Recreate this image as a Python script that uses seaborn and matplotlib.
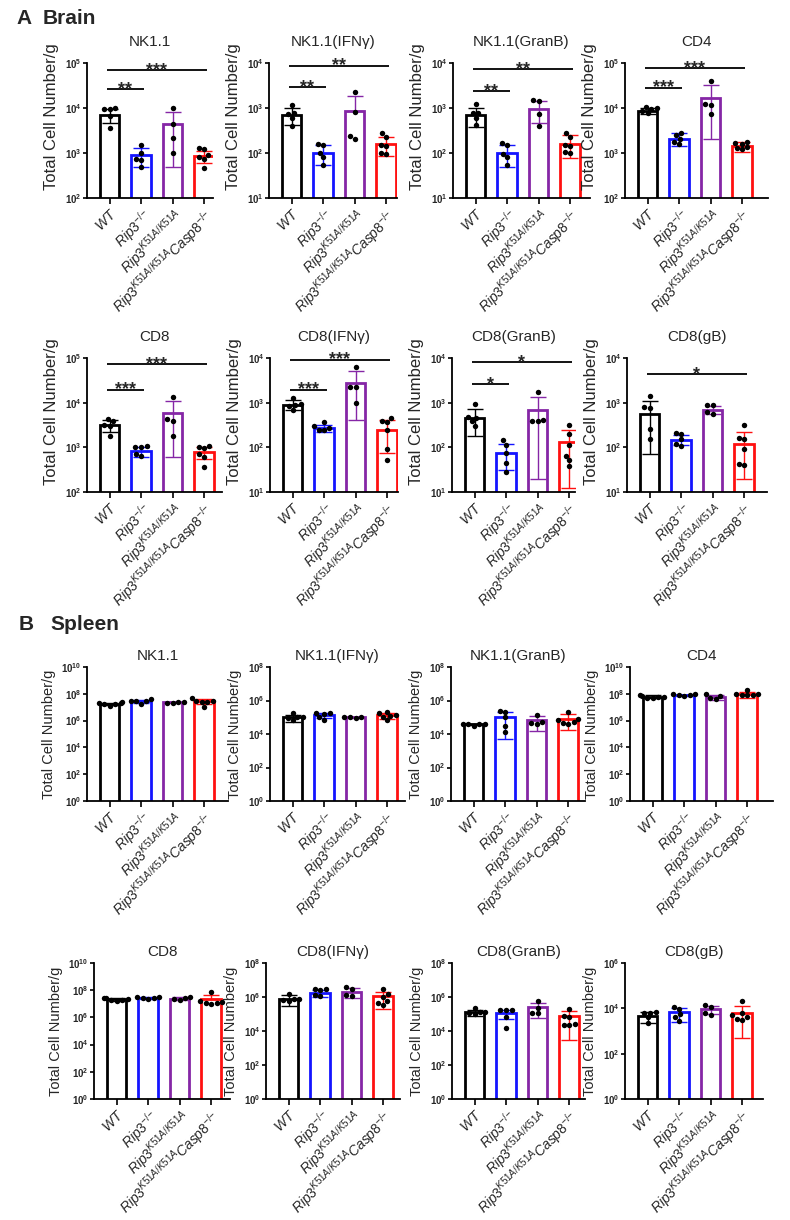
import warnings
warnings.filterwarnings('ignore')
import numpy as np
import pandas as pd
import matplotlib
matplotlib.use('Agg')
import matplotlib.pyplot as plt
import seaborn as sns
from matplotlib.ticker import FixedLocator, FuncFormatter, NullLocator

sns.set_style('ticks')
plt.rcParams['font.family'] = ['Liberation Sans', 'DejaVu Sans']
plt.rcParams['mathtext.fontset'] = 'custom'
plt.rcParams['mathtext.rm'] = 'Liberation Sans'
plt.rcParams['mathtext.it'] = 'Liberation Sans:italic'
plt.rcParams['mathtext.bf'] = 'Liberation Sans:bold'

# ---------------- categories ----------------
groups = ['WT', 'Rip3-/-', 'Rip3K51A/K51A', 'Rip3K51A/K51A Casp8-/-']
group_labels = [r'$\mathit{WT}$',
                r'$\mathit{Rip3}^{\mathit{-/{-}}}$',
                r'$\mathit{Rip3}^{\mathit{K51A/K51A}}$',
                r'$\mathit{Rip3}^{\mathit{K51A/K51A}}\mathit{Casp8}^{\mathit{-/{-}}}$']
group_colors = ['#000000', '#1414ff', '#8526a6', '#ff1010']

titles = ['NK1.1', 'NK1.1(IFNγ)', 'NK1.1(GranB)', 'CD4',
          'CD8', 'CD8(IFNγ)', 'CD8(GranB)', 'CD8(gB)']

# ---------------- Brain data ----------------
brain_nk11_mean = [7.1e3, 890, 4.3e3, 850]
brain_nk11_sd = [2.4e3, 400, 3.8e3, 250]
brain_nk11_pts = [[9.6e3, 9.6e3, 9.8e3, 6.5e3, 3.6e3], [1.5e3, 1.0e3, 720, 700, 500],
                  [9.8e3, 4.5e3, 2.2e3, 1.0e3], [1.3e3, 1.2e3, 900, 800, 750, 470]]
brain_nk11_sig = [(0, 1, 2.6e4, '**'), (0, 3, 6.9e4, '***')]

brain_nk11ifng_mean = [705, 102, 840, 157]
brain_nk11ifng_sd = [290, 48, 1050, 70]
brain_nk11ifng_pts = [[1150, 780, 740, 600, 400], [155, 150, 100, 80, 53],
                      [2300, 800, 210, 240], [275, 230, 150, 140, 98, 95]]
brain_nk11ifng_sig = [(0, 1, 2.9e3, '**'), (0, 3, 8.7e3, '**')]

brain_nk11granb_mean = [705, 102, 965, 162]
brain_nk11granb_sd = [320, 52, 490, 85]
brain_nk11granb_pts = [[1200, 780, 760, 600, 410], [165, 150, 95, 80, 53],
                       [1500, 1400, 750, 400], [280, 230, 150, 140, 105, 100]]
brain_nk11granb_sig = [(0, 1, 2.4e3, '**'), (0, 3, 7.2e3, '**')]

brain_cd4_mean = [8.7e3, 2.1e3, 1.7e4, 1.4e3]
brain_cd4_sd = [1.2e3, 700, 1.5e4, 350]
brain_cd4_pts = [[1.0e4, 1.05e4, 9.5e3, 8.5e3, 7.7e3], [2.8e3, 2.5e3, 2.1e3, 1.8e3, 1.6e3],
                 [4.0e4, 1.2e4, 1.15e4, 7.2e3], [1.8e3, 1.7e3, 1.6e3, 1.35e3, 1.3e3, 1.2e3]]
brain_cd4_sig = [(0, 1, 2.85e4, '***'), (0, 3, 7.7e4, '***')]

brain_cd8_mean = [3.1e3, 820, 5.8e3, 780]
brain_cd8_sd = [900, 200, 5.2e3, 230]
brain_cd8_pts = [[4.3e3, 3.8e3, 3.1e3, 3.0e3, 1.8e3], [1.05e3, 1.0e3, 1.0e3, 700, 650],
                 [1.35e4, 4.2e3, 3.9e3, 1.8e3], [1.05e3, 1.0e3, 950, 700, 600, 360]]
brain_cd8_sig = [(0, 1, 1.95e4, '***'), (0, 3, 7.2e4, '***')]

brain_cd8ifng_mean = [900, 270, 2.8e3, 240]
brain_cd8ifng_sd = [220, 50, 2.4e3, 165]
brain_cd8ifng_pts = [[1300, 950, 900, 850, 700], [360, 300, 270, 250, 240],
                     [6300, 2300, 2200, 1000], [450, 380, 360, 250, 90, 52]]
brain_cd8ifng_sig = [(0, 1, 1.95e3, '***'), (0, 3, 9.2e3, '***')]

brain_cd8granb_mean = [460, 76, 680, 130]
brain_cd8granb_sd = [280, 45, 660, 118]
brain_cd8granb_pts = [[950, 470, 460, 380, 300], [145, 115, 75, 45, 28],
                      [1700, 400, 390, 380], [320, 200, 115, 65, 52, 38]]
brain_cd8granb_sig = [(0, 1, 2.6e3, '*'), (0, 3, 8.0e3, '*')]

brain_cd8gb_mean = [570, 148, 690, 120]
brain_cd8gb_sd = [500, 38, 140, 100]
brain_cd8gb_pts = [[1400, 780, 760, 260, 150], [210, 200, 150, 120, 105],
                   [900, 880, 620, 560], [310, 160, 150, 90, 42, 40]]
brain_cd8gb_sig = [(0, 3, 4.4e3, '*')]

brain_ylims = [(2, 5), (1, 4), (1, 4), (2, 5), (2, 5), (1, 4), (1, 4), (1, 4)]

# ---------------- Spleen data ----------------
spleen_nk11_mean = [1.85e7, 2.9e7, 2.3e7, 2.8e7]
spleen_nk11_sd = [3e6, 8e6, 2.5e6, 1.1e7]
spleen_nk11_pts = [[2.3e7, 2.1e7, 1.9e7, 1.8e7, 1.7e7, 1.3e7], [4.2e7, 2.9e7, 2.8e7, 2.8e7, 1.7e7],
                   [2.6e7, 2.4e7, 2.2e7, 2.0e7], [4.6e7, 3.0e7, 2.8e7, 2.6e7, 2.5e7, 1.1e7]]

spleen_nk11ifng_mean = [1.0e5, 1.4e5, 1.0e5, 1.3e5]
spleen_nk11ifng_sd = [4.5e4, 4.5e4, 5e3, 5e4]
spleen_nk11ifng_pts = [[1.9e5, 1.1e5, 1.0e5, 9e4, 6.5e4], [1.8e5, 1.7e5, 1.5e5, 1.0e5, 7e4],
                       [1.05e5, 1.0e5, 1.0e5, 9.5e4], [2.2e5, 1.7e5, 1.4e5, 1.2e5, 1.0e5, 6.5e4]]

spleen_nk11granb_mean = [3.8e4, 1.0e5, 6.6e4, 8.3e4]
spleen_nk11granb_sd = [4e3, 9.5e4, 5e4, 6.5e4]
spleen_nk11granb_pts = [[4.2e4, 4.0e4, 3.9e4, 3.8e4, 3.0e4], [2.3e5, 2.2e5, 1.0e5, 3e4, 1.4e4],
                        [1.3e5, 5.5e4, 4.5e4, 4e4], [2.1e5, 7.5e4, 7e4, 5e4, 4.5e4, 4e4]]

spleen_cd4_mean = [6e7, 7.5e7, 5.7e7, 9e7]
spleen_cd4_sd = [1.5e7, 1.0e7, 2.2e7, 4.5e7]
spleen_cd4_pts = [[8e7, 7e7, 6e7, 5.5e7, 5e7, 4.5e7], [9.5e7, 9e7, 8e7, 7.5e7, 7e7],
                  [9e7, 7e7, 5e7, 4e7], [2.0e8, 1.0e8, 9e7, 8.5e7, 8e7, 7.5e7]]

spleen_cd8_mean = [2.2e7, 2.6e7, 2.4e7, 2.2e7]
spleen_cd8_sd = [5e6, 4e6, 6e6, 2.3e7]
spleen_cd8_pts = [[2.8e7, 2.6e7, 2.2e7, 2.0e7, 1.8e7, 1.6e7], [3.3e7, 3.0e7, 2.8e7, 2.6e7, 2.3e7],
                  [3.2e7, 2.8e7, 2.2e7, 1.9e7], [7e7, 1.5e7, 1.3e7, 1.2e7, 1.1e7, 1.0e7]]

spleen_cd8ifng_mean = [8e5, 1.8e6, 2.1e6, 1.1e6]
spleen_cd8ifng_sd = [5e5, 8e5, 1.2e6, 9e5]
spleen_cd8ifng_pts = [[1.5e6, 8e5, 7.5e5, 7e5, 5.5e5], [3e6, 2.8e6, 2.5e6, 1.3e6, 1.2e6],
                      [3.8e6, 3e6, 1.3e6, 1.2e6], [2.8e6, 1.5e6, 1.0e6, 6e5, 4.5e5, 3.5e5]]

spleen_cd8granb_mean = [1.3e5, 1.1e5, 2.5e5, 7.3e4]
spleen_cd8granb_sd = [5e4, 6e4, 1.9e5, 7e4]
spleen_cd8granb_pts = [[2.2e5, 1.4e5, 1.3e5, 1.1e5, 9.5e4], [1.8e5, 1.7e5, 1.7e5, 7e4, 1.5e4],
                       [5.5e5, 2.4e5, 1.2e5, 1.1e5], [2.1e5, 8e4, 7e4, 2.5e4, 2.4e4, 2.3e4]]

spleen_cd8gb_mean = [4.7e3, 6.6e3, 9e3, 6.5e3]
spleen_cd8gb_sd = [2.4e3, 4e3, 3.5e3, 6e3]
spleen_cd8gb_pts = [[6.8e3, 6.5e3, 6.0e3, 4e3, 2.3e3], [1.1e4, 9.5e3, 5.5e3, 4e3, 2.7e3],
                    [1.35e4, 1.2e4, 6e3, 5e3], [2.2e4, 6e3, 5e3, 4e3, 3.5e3, 3e3]]

spleen_ylims = [(0, 10), (0, 8), (0, 8), (0, 10), (0, 10), (0, 8), (0, 8), (0, 6)]

brain_panels = [
    (brain_nk11_pts, brain_nk11_mean, brain_nk11_sd, brain_nk11_sig),
    (brain_nk11ifng_pts, brain_nk11ifng_mean, brain_nk11ifng_sd, brain_nk11ifng_sig),
    (brain_nk11granb_pts, brain_nk11granb_mean, brain_nk11granb_sd, brain_nk11granb_sig),
    (brain_cd4_pts, brain_cd4_mean, brain_cd4_sd, brain_cd4_sig),
    (brain_cd8_pts, brain_cd8_mean, brain_cd8_sd, brain_cd8_sig),
    (brain_cd8ifng_pts, brain_cd8ifng_mean, brain_cd8ifng_sd, brain_cd8ifng_sig),
    (brain_cd8granb_pts, brain_cd8granb_mean, brain_cd8granb_sd, brain_cd8granb_sig),
    (brain_cd8gb_pts, brain_cd8gb_mean, brain_cd8gb_sd, brain_cd8gb_sig),
]
spleen_panels = [
    (spleen_nk11_pts, spleen_nk11_mean, spleen_nk11_sd, []),
    (spleen_nk11ifng_pts, spleen_nk11ifng_mean, spleen_nk11ifng_sd, []),
    (spleen_nk11granb_pts, spleen_nk11granb_mean, spleen_nk11granb_sd, []),
    (spleen_cd4_pts, spleen_cd4_mean, spleen_cd4_sd, []),
    (spleen_cd8_pts, spleen_cd8_mean, spleen_cd8_sd, []),
    (spleen_cd8ifng_pts, spleen_cd8ifng_mean, spleen_cd8ifng_sd, []),
    (spleen_cd8granb_pts, spleen_cd8granb_mean, spleen_cd8granb_sd, []),
    (spleen_cd8gb_pts, spleen_cd8gb_mean, spleen_cd8gb_sd, []),
]

# ---------------- layout (pixels) ----------------
W, H = 790, 1220
fig = plt.figure(figsize=(W / 100, H / 100), dpi=100)
row_spans = [(63, 198), (358, 492), (667, 801), (963, 1099)]
col_lefts = [[87, 269, 453, 625], [87, 270, 452, 627], [87, 270, 451, 630], [94, 266, 452, 625]]
col_rights = [[213, 397, 590, 768], [222, 398, 575, 767], [228, 405, 585, 773], [230, 400, 585, 763]]
UNIT_PX = 31.5
X_LEFT = -0.72


def decade_fmt(v, p):
    return r'$\mathbf{10^{%d}}$' % int(round(np.log10(v)))


def draw_panel(ax, width_px, title, pts, mean, sd, sig, ylim, step, ylab_fs, ylab_y, title_pad):
    ax.set_yscale('log')
    sns.barplot(x=groups, y=mean, hue=groups, order=groups, hue_order=groups,
                palette=group_colors, fill=False, linewidth=2.0, width=0.62,
                errorbar=None, legend=False, ax=ax)
    for i, (m, s, c) in enumerate(zip(mean, sd, group_colors)):
        lo = s if m - s > 0 else 0
        ax.errorbar(i, m, yerr=[[lo], [s]], fmt='none', ecolor=c, elinewidth=1.0,
                    capsize=6, capthick=1.0, zorder=3)
    df = pd.DataFrame({'group': [g for g, p in zip(groups, pts) for _ in p],
                       'value': [v for p in pts for v in p]})
    sns.swarmplot(data=df, x='group', y='value', order=groups, color='black',
                  size=3.9, ax=ax, zorder=4)
    for x0, x1, yv, lab in sig:
        ax.plot([x0 - 0.1, x1 + 0.1], [yv, yv], color='black', lw=1.3,
                solid_capstyle='butt', clip_on=False)
        ax.annotate(lab, xy=((x0 + x1) / 2, yv), xytext=(0, -3.5), textcoords='offset points',
                    ha='center', va='baseline', fontsize=13, fontweight='bold',
                    annotation_clip=False)
    lo_e, hi_e = ylim
    ax.set_ylim(10.0 ** lo_e, 10.0 ** hi_e)
    ax.yaxis.set_major_locator(FixedLocator(10.0 ** np.arange(lo_e, hi_e + 1, step)))
    ax.yaxis.set_minor_locator(NullLocator())
    ax.yaxis.set_major_formatter(FuncFormatter(decade_fmt))
    ax.set_xlim(X_LEFT, X_LEFT + width_px / UNIT_PX)
    ax.set_xticks(range(4))
    ax.set_xticklabels(group_labels, rotation=45, ha='right', rotation_mode='anchor',
                       fontsize=10)
    ax.set_xlabel('')
    ax.set_ylabel('Total Cell Number/g', fontsize=ylab_fs, labelpad=4, y=ylab_y)
    ax.set_title(title, fontsize=11, pad=title_pad)
    sns.despine(ax=ax)
    for sp in ['left', 'bottom']:
        ax.spines[sp].set_linewidth(1.3)
        ax.spines[sp].set_color('black')
    ax.tick_params(axis='y', length=3, width=1.2, pad=1, labelsize=7, color='black')
    ax.tick_params(axis='x', length=4, width=1.2, pad=2, color='black')


for ri in range(4):
    top, bot = row_spans[ri]
    brain = ri < 2
    panels = brain_panels if brain else spleen_panels
    ylims = brain_ylims if brain else spleen_ylims
    for ci in range(4):
        k = (ri % 2) * 4 + ci
        left = col_lefts[ri][ci]
        wpx = col_rights[ri][ci] - left
        ax = fig.add_axes([left / W, 1 - bot / H, wpx / W, (bot - top) / H])
        pts, mean, sd, sig = panels[k]
        draw_panel(ax, wpx, titles[k], pts, mean, sd, sig, ylims[k],
                   1 if brain else 2,
                   12 if brain else 10.5,
                   0.6 if brain else 0.5,
                   12 if brain else 5)

fig.text(16 / W, 1 - 18 / H, 'A', fontsize=15, fontweight='bold', va='center', ha='left')
fig.text(43 / W, 1 - 18 / H, 'Brain', fontsize=15, fontweight='bold', va='center', ha='left')
fig.text(19 / W, 1 - 625 / H, 'B', fontsize=15, fontweight='bold', va='center', ha='left')
fig.text(50 / W, 1 - 625 / H, 'Spleen', fontsize=15, fontweight='bold', va='center', ha='left')

fig.savefig('out.png', dpi=100, facecolor='white')
